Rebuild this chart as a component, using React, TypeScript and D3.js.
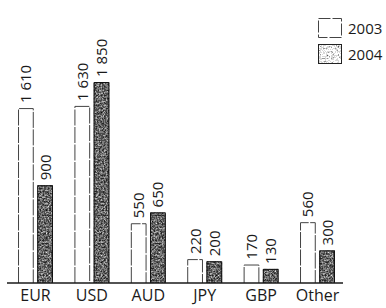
import React from 'react';
import * as d3 from 'd3';

const categories = ['EUR', 'USD', 'AUD', 'JPY', 'GBP', 'Other'];
const series = ['2003', '2004'];
const values2003 = [1610, 1630, 550, 220, 170, 560];
const values2004 = [900, 1850, 650, 200, 130, 300];

const W = 386;
const H = 308;
const baseY = 283;

const fmt = d3.formatLocale({ decimal: '.', thousands: ' ', grouping: [3], currency: ['', ''] }).format(',');

export default function App() {
  const x = d3.scaleBand().domain(categories).range([7.3, 345.7]).paddingInner(0.38).paddingOuter(0.19);
  const xs = d3.scaleBand().domain(series).range([0, x.bandwidth()]).paddingInner(0.18);
  const y = d3.scaleLinear().domain([0, 1850]).range([baseY, 82]);

  const rows = categories.map((c, i) => ({ c, v: [values2003[i], values2004[i]] }));
  const font = "'Open Sans', 'DejaVu Sans', sans-serif";

  const barPath = (x0: number, w: number, top: number) =>
    `M${x0},${baseY}V${top}H${x0 + w}V${baseY}`;

  // grey levels for the scanned-looking texture
  const darkTable = '0.05 0.15 0.3 0.5 0.7 0.9';
  const lightTable = '0.35 0.6 0.85 1 1 1';

  return (
    <div style={{ position: 'absolute', left: 0, top: 0 }}>
      <svg width={W} height={H} style={{ display: 'block', background: '#fff' }}>
        <defs>
          {[['grain', darkTable], ['grainLight', lightTable]].map(([id, tv]) => (
            <filter key={id} id={id} x="0" y="0" width="100%" height="100%" colorInterpolationFilters="sRGB">
              <feTurbulence type="fractalNoise" baseFrequency="0.6" numOctaves="3" seed="5" result="n" />
              <feColorMatrix
                in="n"
                type="matrix"
                values="1 0 0 0 0  1 0 0 0 0  1 0 0 0 0  0 0 0 0 1"
                result="g"
              />
              <feComponentTransfer in="g" result="t">
                <feFuncR type="discrete" tableValues={tv} />
                <feFuncG type="discrete" tableValues={tv} />
                <feFuncB type="discrete" tableValues={tv} />
              </feComponentTransfer>
              <feComposite in="t" in2="SourceGraphic" operator="in" />
            </filter>
          ))}
        </defs>

        {rows.map((r) => (
          <g key={r.c} transform={`translate(${x(r.c)},0)`}>
            {series.map((s, j) => {
              const bx = xs(s)!;
              const bw = xs.bandwidth();
              const top = y(r.v[j]);
              return (
                <g key={s}>
                  {j === 1 && (
                    <rect x={bx} y={top} width={bw} height={baseY - top} fill="#888" filter="url(#grain)" />
                  )}
                  <path
                    d={barPath(bx + 0.5, bw - 1, top + 0.5)}
                    fill={j === 0 ? '#fff' : 'none'}
                    stroke={j === 0 ? '#444' : '#111'}
                    strokeWidth={1}
                    strokeDasharray={j === 0 ? '16 1.5' : undefined}
                  />
                  <text
                    transform={`translate(${bx + bw / 2 + 5.5},${top - 5}) rotate(-90)`}
                    fontFamily={font}
                    fontSize={15}
                    fill="#1a1a1a"
                  >
                    {fmt(r.v[j])}
                  </text>
                </g>
              );
            })}
            <text
              x={x.bandwidth() / 2}
              y={301}
              textAnchor="middle"
              fontFamily={font}
              fontSize={16}
              fill="#1a1a1a"
            >
              {r.c}
            </text>
          </g>
        ))}

        <line x1={7} x2={343} y1={baseY} y2={baseY} stroke="#1a1a1a" strokeWidth={1.5} />

        {series.map((s, j) => {
          const ly = 18 + j * 26;
          return (
            <g key={s}>
              {j === 1 && <rect x={318} y={ly} width={24} height={20} fill="#bbb" filter="url(#grainLight)" />}
              <rect
                x={318.5}
                y={ly + 0.5}
                width={23}
                height={19}
                fill={j === 0 ? '#fff' : 'none'}
                stroke={j === 0 ? '#444' : '#222'}
                strokeDasharray={j === 0 ? '12 2' : undefined}
              />
              <text x={348} y={ly + 16} fontFamily={font} fontSize={15} fill="#1a1a1a">
                {s}
              </text>
            </g>
          );
        })}
      </svg>
    </div>
  );
}
